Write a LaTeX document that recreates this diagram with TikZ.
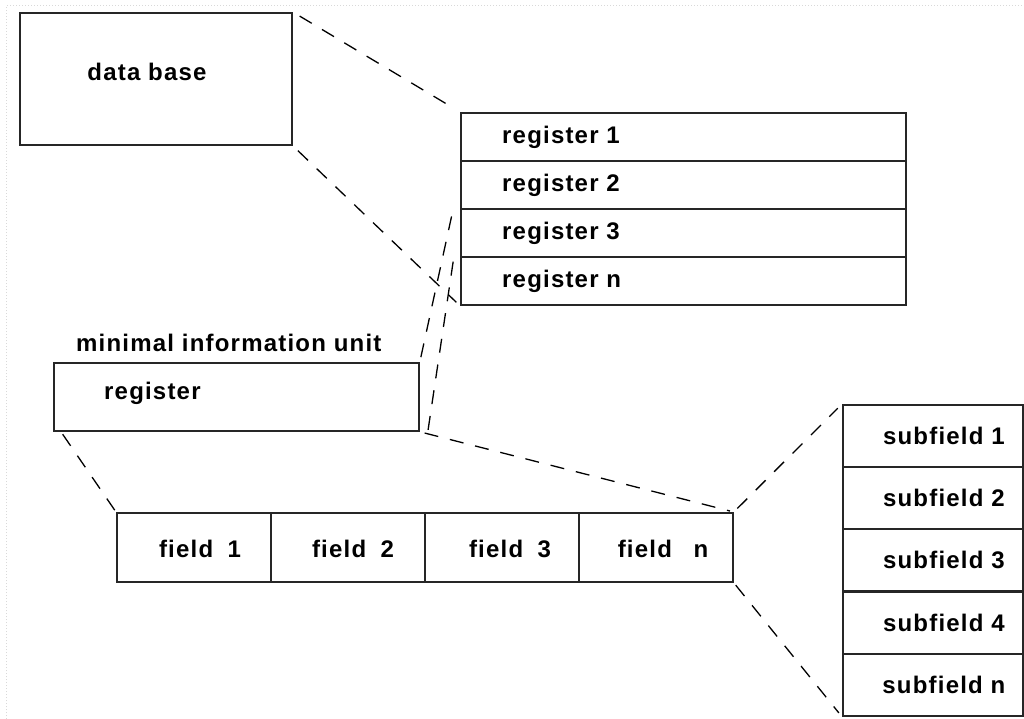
\documentclass[tikz,border=0pt]{standalone}
\usepackage{fontspec}
\newfontfamily\lblfont{Liberation Sans}[LetterSpace=5]
\begin{document}
\begin{tikzpicture}[x=1pt,y=-1pt,
  box/.style={draw=black!85, line width=1.8pt, anchor=north west, inner sep=0pt},
  lbl/.style={font=\lblfont\bfseries\fontsize{24}{28}\selectfont, inner sep=0pt},
  link/.style={draw=black, line width=1.3pt, dash pattern=on 14pt off 12pt}
]
\useasboundingbox (0,0) rectangle (1024,719);
% faint page frame
\draw[black!15, dotted, line width=1pt] (6,719) -- (6,6) -- (1024,6);

% data base
\node[box, minimum width=272pt, minimum height=132pt] (db) at (19,12) {};
\node[lbl] (dbt) at (147,72) {data base};

% register stack
\foreach \i/\y/\t in {1/112/register 1, 2/160/register 2, 3/208/register 3, 4/256/register n}{
  \node[box, minimum width=445pt, minimum height=48pt] (r\i) at (460,\y) {};
  \node[lbl, anchor=west] (rt\i) at ([xshift=42pt]r\i.west) {\t};
}

% minimal information unit
\node[lbl, anchor=west] (mit) at (76,343) {minimal information unit};
\node[box, minimum width=365pt, minimum height=68pt] (reg) at (53,362) {};
\node[lbl, anchor=west] (regt) at (104,393) {register};

% field row
\foreach \i/\x in {1/116, 2/270, 3/424, 4/578}{
  \node[box, minimum width=154pt, minimum height=69pt] (f\i) at (\x,512) {};
}
\node[lbl] (ft1) at (200,549) {field\hspace{0.6em}1};
\node[lbl] (ft2) at (353,549) {field\hspace{0.6em}2};
\node[lbl] (ft3) at (510,549) {field\hspace{0.6em}3};
\node[lbl] (ft4) at (663,549) {field\hspace{0.9em}n};

% subfield column
\foreach \i/\y/\t in {1/404/subfield 1, 2/466/subfield 2, 3/528/subfield 3, 4/591/subfield 4, 5/653/subfield n}{
  \node[box, minimum width=180pt, minimum height=62pt] (s\i) at (842,\y) {};
  \node[lbl] (st\i) at ([xshift=11pt]s\i.center) {\t};
}

% zoom connectors
\draw[link, shorten <=8pt, shorten >=7pt] (db.north east) -- (r1.north west);
\draw[link, shorten <=7pt, shorten >=5pt] (db.south east) -- (r4.south west);
\draw[link, shorten <=5pt] (reg.north east) -- ([xshift=-7pt]r2.south west);
\draw[link, shorten <=2pt, shorten >=2pt] ([xshift=8pt]reg.south east) -- ([xshift=-6pt]r4.north west);
\draw[link, shorten <=5pt, shorten >=4pt] (reg.south east) -- (f4.north east);
\draw[link, shorten <=3pt, shorten >=2pt] ([xshift=8pt]reg.south west) -- (f1.north west);
\draw[link, shorten <=5pt, shorten >=6pt] (f4.north east) -- (s1.north west);
\draw[link, shorten <=3pt, shorten >=5pt] (f4.south east) -- (s5.south west);
\end{tikzpicture}
\end{document}
